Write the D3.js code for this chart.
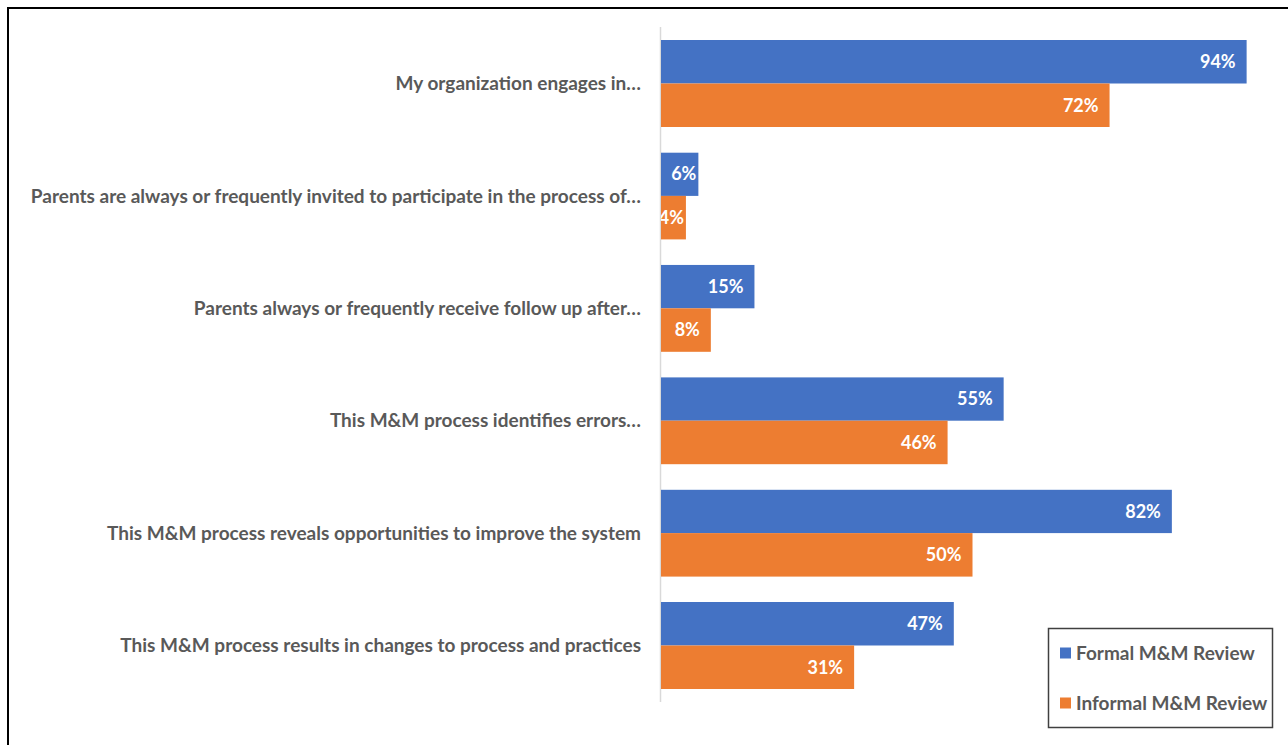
<!DOCTYPE html>
<html>
<head>
<meta charset="utf-8">
<script src="https://cdn.jsdelivr.net/npm/d3@7"></script>
<style>
  body { margin: 0; background: #fff; }
  text { font-family: Lato, "Open Sans", sans-serif; font-weight: bold; }
</style>
</head>
<body>
<script>
// survey statements, top to bottom
const categories = [
  "My organization engages in…",
  "Parents are always or frequently invited to participate in the process of…",
  "Parents always or frequently receive follow up after…",
  "This M&M process identifies errors…",
  "This M&M process reveals opportunities to improve the system",
  "This M&M process results in changes to process and practices"
]
const seriesNames = ["Formal M&M Review", "Informal M&M Review"]
const formal = [94, 6, 15, 55, 82, 47]
const informal = [72, 4, 8, 46, 50, 31]
const colors = ["#4472c4", "#ed7d31"]

const w = 1288, h = 745
const svg = d3.select("body").append("svg").attr("width", w).attr("height", h)

// frame (only top & left edges are visible in the picture)
svg.append("rect")
  .attr("x", 8).attr("y", 8)
  .attr("width", 1300).attr("height", 800)
  .attr("fill", "none").attr("stroke", "#000").attr("stroke-width", 2)

const x = d3.scaleLinear().domain([0, 100]).range([661, 1284])
const y = d3.scaleBand().domain(categories).range([27, 702])
  .paddingInner(0.226).paddingOuter(0.1157)
const ySub = d3.scaleBand().domain(seriesNames).range([0, y.bandwidth()])

const rows = categories.map((c, i) => ({ cat: c, vals: [formal[i], informal[i]] }))

// plot area clip, labels can't spill left of the axis
svg.append("clipPath").attr("id", "plot")
  .append("rect")
  .attr("x", x(0)).attr("y", 0)
  .attr("width", x(100) - x(0)).attr("height", h)

// vertical axis line
svg.append("line")
  .attr("x1", x(0) - 0.5).attr("x2", x(0) - 0.5)
  .attr("y1", 27).attr("y2", 702)
  .attr("stroke", "#d9d9d9").attr("stroke-width", 1.5)

// category labels
svg.selectAll("text.cat")
  .data(categories)
  .enter()
  .append("text")
  .attr("class", "cat")
  .attr("x", 641)
  .attr("y", d => y(d) + y.bandwidth() / 2)
  .attr("dy", "0.35em")
  .attr("text-anchor", "end")
  .attr("fill", "#595959")
  .attr("font-size", 19)
  .text(d => d)

const g = svg.selectAll("g.row")
  .data(rows)
  .enter()
  .append("g")
  .attr("transform", d => `translate(0,${y(d.cat)})`)
  .attr("clip-path", "url(#plot)")

g.selectAll("rect")
  .data(d => d.vals.map((v, j) => ({ v, s: seriesNames[j], j })))
  .enter()
  .append("rect")
  .attr("x", x(0))
  .attr("y", d => ySub(d.s))
  .attr("width", d => x(d.v) - x(0))
  .attr("height", ySub.bandwidth())
  .attr("fill", d => colors[d.j])

g.selectAll("text.val")
  .data(d => d.vals.map((v, j) => ({ v, s: seriesNames[j], j })))
  .enter()
  .append("text")
  .attr("class", "val")
  .attr("y", d => ySub(d.s) + ySub.bandwidth() / 2)
  .attr("dy", "0.35em")
  .attr("text-anchor", "end")
  .attr("fill", "#fff")
  .attr("font-size", 18)
  .text(d => d.v + "%")
  .attr("x", function(d) {
    // inside end; short bars push the label right, but never past the bar end
    let tw = this.getComputedTextLength()
    let right = Math.max(x(d.v) - 11, x(0) + 11 + tw)
    return Math.min(right, x(d.v) - 2)
  })

// legend
const legend = svg.append("g")
legend.append("rect")
  .attr("x", 1048.5).attr("y", 628.5)
  .attr("width", 224).attr("height", 99)
  .attr("fill", "#fff").attr("stroke", "#404040").attr("stroke-width", 1.5)

const li = legend.selectAll("g.item")
  .data(seriesNames)
  .enter()
  .append("g")
  .attr("transform", (d, i) => `translate(1060,${653 + i * 50})`)
li.append("rect")
  .attr("x", 0).attr("y", -5.5)
  .attr("width", 11).attr("height", 11)
  .attr("fill", (d, i) => colors[i])
li.append("text")
  .attr("x", 16).attr("dy", "0.35em")
  .attr("fill", "#595959")
  .attr("font-size", 19)
  .text(d => d)
</script>
</body>
</html>
